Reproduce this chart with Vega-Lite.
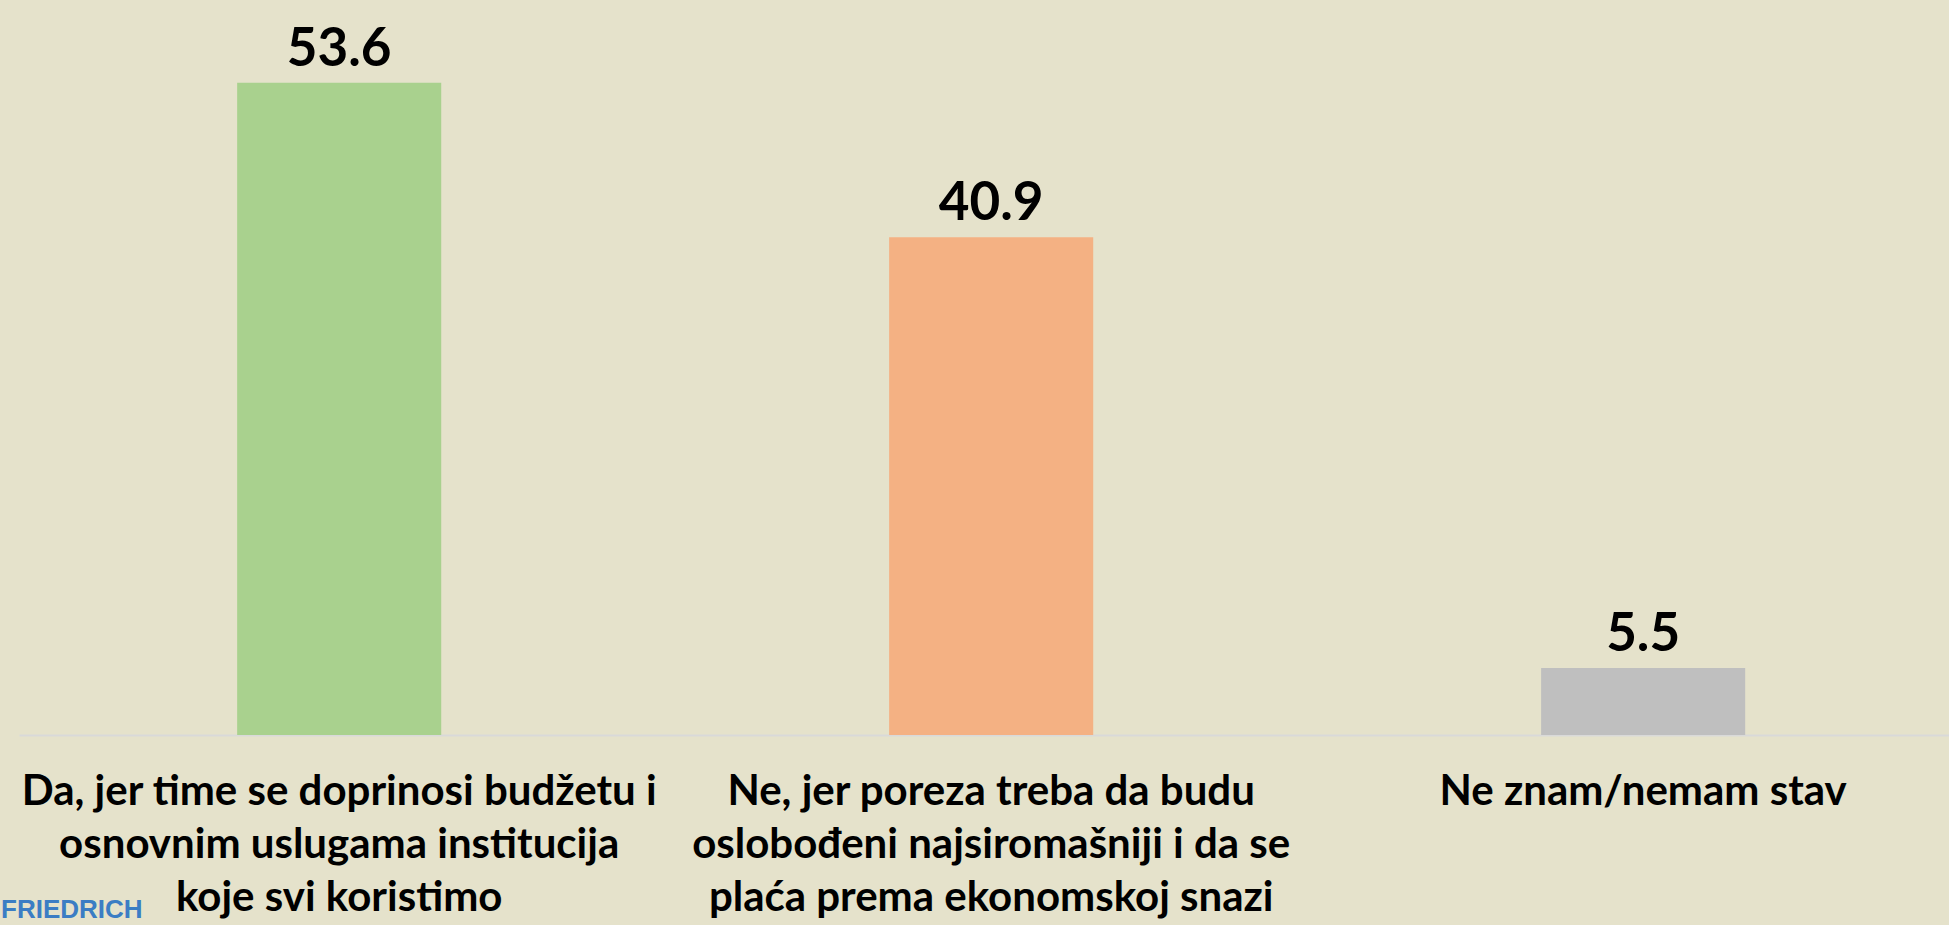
{
  "$schema": "https://vega.github.io/schema/vega-lite/v6.json",
  "autosize": {"type": "none"},
  "width": 1930,
  "height": 735,
  "padding": {"left": 19, "top": 0, "right": 0, "bottom": 190},
  "background": "#e5e2cb",
  "config": {"view": {"stroke": null}},
  "title": {
    "text": "FRIEDRICH",
    "orient": "bottom",
    "anchor": "start",
    "offset": -21,
    "dx": -18,
    "font": "Liberation Sans",
    "fontWeight": "bold",
    "fontSize": 26,
    "color": "#3b7dc4",
    "baseline": "top"
  },
  "data": {
    "values": [
      {"odgovor": "Da, jer time se doprinosi budžetu i|osnovnim uslugama institucija|koje svi koristimo", "procenat": 53.6},
      {"odgovor": "Ne, jer poreza treba da budu|oslobođeni najsiromašniji i da se|plaća prema ekonomskoj snazi", "procenat": 40.9},
      {"odgovor": "Ne znam/nemam stav", "procenat": 5.5}
    ]
  },
  "encoding": {
    "x": {
      "field": "odgovor",
      "type": "nominal",
      "sort": null,
      "scale": {"paddingInner": 0.687, "paddingOuter": 0.3236, "align": 0.517},
      "axis": {
        "title": null,
        "ticks": false,
        "domainColor": "#d9d9d9",
        "domainWidth": 2,
        "labelAngle": 0,
        "labelExpr": "split(datum.value, '|')",
        "labelFont": "Lato",
        "labelFontWeight": "bold",
        "labelFontSize": 42,
        "labelColor": "#000000",
        "labelLineHeight": 53,
        "labelPadding": 36,
        "labelLimit": 800,
        "labelOverlap": false,
        "labelBound": false,
        "labelFlush": false
      }
    },
    "y": {
      "field": "procenat",
      "type": "quantitative",
      "scale": {"domain": [0, 60.4], "nice": false},
      "axis": null
    }
  },
  "layer": [
    {
      "mark": {"type": "bar"},
      "encoding": {
        "color": {
          "field": "odgovor",
          "type": "nominal",
          "sort": null,
          "scale": {"range": ["#a9d18e", "#f4b183", "#bfbfbf"]},
          "legend": null
        }
      }
    },
    {
      "mark": {"type": "text", "font": "Lato", "fontWeight": "bold", "fontSize": 53, "baseline": "alphabetic", "dy": -17, "color": "#000000"},
      "encoding": {
        "text": {"field": "procenat", "type": "quantitative", "format": ".1f"}
      }
    }
  ]
}
